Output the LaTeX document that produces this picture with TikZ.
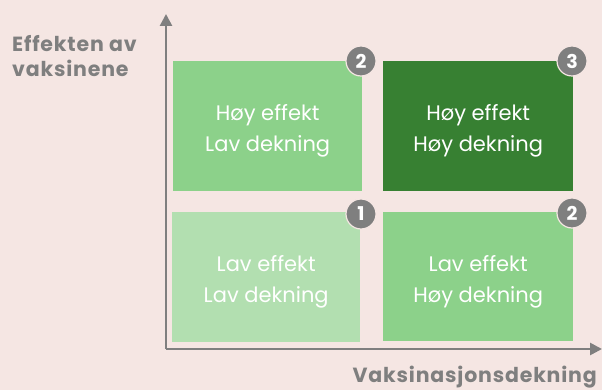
\documentclass[tikz,border=0pt]{standalone}
\usepackage{fontspec}
\setmainfont{Poppins}
\newfontfamily\axisfont[LetterSpace=4]{Poppins}
\usetikzlibrary{arrows.meta}
\definecolor{bg}{HTML}{F5E6E3}
\definecolor{lightg}{HTML}{B2DFB0}
\definecolor{midg}{HTML}{8CD18A}
\definecolor{darkg}{HTML}{378032}
\definecolor{axisgray}{HTML}{7F7F7F}
\tikzset{
  quad/.style={anchor=north west, inner sep=0pt},
  quadtext/.style={text=white, align=center, inner sep=0pt, yshift=-5pt,
    font=\fontsize{21}{31}\selectfont},
  badge/.style={circle, fill=axisgray, draw=bg, line width=1.2pt, minimum size=30pt, inner sep=0pt,
    text=white, font=\fontsize{19}{19}\selectfont\bfseries},
  axislabel/.style={text=axisgray, font=\axisfont\fontsize{20.5}{25}\selectfont\bfseries, align=left, inner sep=0pt},
  axisline/.style={draw=axisgray, line width=2.6pt, -{Triangle[length=12pt,width=12pt]}}
}
\begin{document}
\begin{tikzpicture}[x=1pt,y=-1pt]
\fill[bg] (0,0) rectangle (602,390);
\useasboundingbox (0,0) rectangle (602,390);
\coordinate (origin) at (166,349);
\coordinate (ytop) at (166,14);
\coordinate (xend) at (602,349);
\node[quad, fill=midg, minimum width=189pt, minimum height=130pt] (q2a) at (173,61) {};
\node[quadtext] (t2a) at (q2a.center) {Høy effekt\\Lav dekning};
\node[quad, fill=darkg, minimum width=190pt, minimum height=130pt] (q3) at (383,61) {};
\node[quadtext] (t3) at (q3.center) {Høy effekt\\Høy dekning};
\node[quad, fill=lightg, minimum width=188pt, minimum height=130pt] (q1) at (172,212) {};
\node[quadtext] (t1) at (q1.center) {Lav effekt\\Lav dekning};
\node[quad, fill=midg, minimum width=190pt, minimum height=129pt] (q2b) at (383,212) {};
\node[quadtext] (t2b) at (q2b.center) {Lav effekt\\Høy dekning};
\draw[axisline] (origin) -- (ytop);
\draw[axisline] (origin) -- (xend);
\node[badge] (b2a) at (361,61) {2};
\node[badge] (b3) at (572,61) {3};
\node[badge] (b1) at (361,214) {1};
\node[badge] (b2b) at (572,213) {2};
\node[axislabel, anchor=north west] (ylab) at (12,35) {Effekten av\\vaksinene};
\node[axislabel, anchor=north east] (xlab) at (597,366) {Vaksinasjonsdekning};
\end{tikzpicture}
\end{document}
